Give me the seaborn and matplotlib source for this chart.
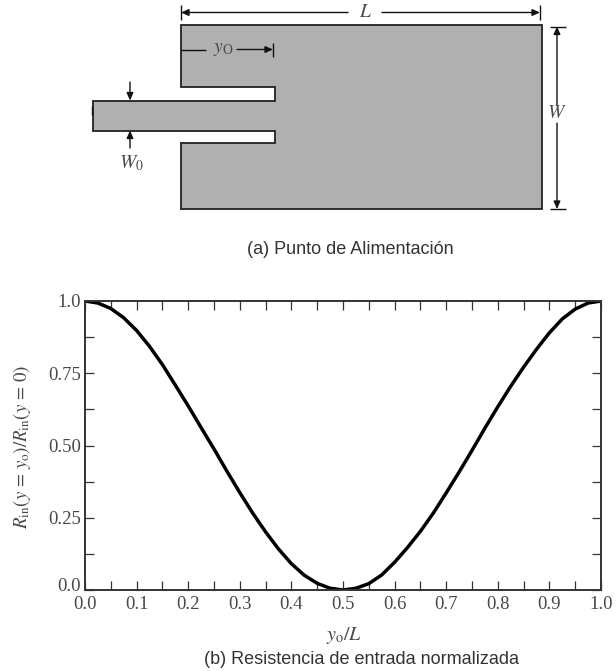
import pandas as pd
import matplotlib.pyplot as plt
import matplotlib.transforms as mtrans
import seaborn as sns

sns.set_style("ticks")
plt.rcParams['font.family'] = ['Liberation Serif', 'DejaVu Serif']
plt.rcParams['mathtext.fontset'] = 'stix'

# curve
y_over_l = [0.0, 0.025, 0.05, 0.075, 0.1, 0.125, 0.15, 0.175, 0.2, 0.225,
            0.25, 0.275, 0.3, 0.325, 0.35, 0.375, 0.4, 0.425, 0.45, 0.475,
            0.5, 0.525, 0.55, 0.575, 0.6, 0.625, 0.65, 0.675, 0.7, 0.725,
            0.75, 0.775, 0.8, 0.825, 0.85, 0.875, 0.9, 0.925, 0.95, 0.975, 1.0]
r_norm = [1.0, 0.993, 0.974, 0.942, 0.898, 0.843, 0.780, 0.709, 0.637, 0.562,
          0.488, 0.411, 0.337, 0.266, 0.201, 0.142, 0.091, 0.051, 0.023, 0.006,
          0.0, 0.006, 0.022, 0.052, 0.096, 0.147, 0.203, 0.266, 0.336, 0.408,
          0.483, 0.560, 0.634, 0.705, 0.771, 0.833, 0.890, 0.938, 0.972, 0.993, 1.0]

x_ticks = [0.0, 0.1, 0.2, 0.3, 0.4, 0.5, 0.6, 0.7, 0.8, 0.9, 1.0]
x_minor = [0.05, 0.15, 0.25, 0.35, 0.45, 0.55, 0.65, 0.75, 0.85, 0.95]
y_ticks = [0.0, 0.25, 0.5, 0.75, 1.0]
y_tick_labels = ['0.0', '0.25', '0.50', '0.75', '1.0']
y_minor = [0.125, 0.375, 0.625, 0.875]

# patch outline, in picture pixels
patch_x = [181, 542, 542, 181, 181, 275, 275, 93, 93, 275, 275, 181, 181]
patch_y = [25, 25, 209, 209, 143, 143, 130.5, 130.5, 100.5, 100.5, 87, 87, 25]

DARK = '#333333'
TEXT = '#484848'
PATCH_GRAY = '#b0b0b0'

fig = plt.figure(figsize=(6.16, 6.71), dpi=100)

# top drawing in pixel coordinates
top = fig.add_axes([0, 0, 1, 1])
top.set_xlim(0, 616)
top.set_ylim(671, 0)
top.axis('off')
top.fill(patch_x, patch_y, facecolor=PATCH_GRAY, edgecolor='#222222', linewidth=1.3)


def seg(x0, y0, x1, y1):
    top.plot([x0, x1], [y0, y1], color='#111111', lw=1.0, solid_capstyle='butt')


def arrow(x0, y0, x1, y1):
    top.annotate('', xy=(x1, y1), xytext=(x0, y0),
                 arrowprops=dict(arrowstyle='-|>,head_length=0.45,head_width=0.2',
                                 color='#111111', lw=1.0, shrinkA=0, shrinkB=0))


# L
seg(181, 5, 181, 20)
seg(540, 5, 540, 20)
arrow(348, 12.5, 181, 12.5)
arrow(382, 12.5, 540, 12.5)
top.text(366, 12.5, '$L$', fontsize=14, color=TEXT, ha='center', va='center')
# y0
seg(181, 49.5, 206, 49.5)
arrow(237, 49.5, 273, 49.5)
seg(273, 43, 273, 57)
top.text(223, 49.5, r'$y_{\mathrm{O}}$', fontsize=14, color=TEXT, ha='center', va='center')
# W
seg(550, 26.5, 566, 26.5)
seg(550, 209, 566, 209)
arrow(557, 105, 557, 26.5)
arrow(557, 123, 557, 209)
top.text(557, 113, '$W$', fontsize=14, color=TEXT, ha='center', va='center')
# W0
arrow(130, 82, 130, 100.5)
arrow(130, 148, 130, 130.5)
top.text(131, 163, r'$W_{\mathrm{0}}$', fontsize=14, color=TEXT, ha='center', va='center')
seg(91.5, 106, 91.5, 115)

# bottom chart
ax = fig.add_axes([85 / 616, 1 - 590 / 671, (601 - 85) / 616, (590 - 301) / 671])
ax.patch.set_alpha(0)
df = pd.DataFrame({'y_over_l': y_over_l, 'r_norm': r_norm})
sns.lineplot(data=df, x='y_over_l', y='r_norm', color='black', linewidth=2.5, ax=ax,
             solid_joinstyle='round')
ax.set_xlim(0, 1)
ax.set_ylim(0, 1)
ax.set_xticks(x_ticks)
ax.set_xticklabels([f'{v:.1f}' for v in x_ticks])
ax.set_xticks(x_minor, minor=True)
ax.set_yticks(y_ticks)
ax.set_yticklabels(y_tick_labels)
ax.set_yticks(y_minor, minor=True)
ax.tick_params(which='both', direction='in', length=6.5, width=0.9, color=DARK,
               top=True, right=True, labelsize=13.5, labelcolor=TEXT, pad=3)
ax.tick_params(axis='x', which='both', pad=4)
for side, spine in ax.spines.items():
    spine.set_color(DARK)
    spine.set_linewidth(1.4)
ax.set_xlabel('')
ax.set_ylabel('')

# the lower 0.0 sits a little above its tick, clear of the x labels
zero_label = ax.get_yticklabels()[0]
zero_label.set_transform(zero_label.get_transform()
                         + mtrans.ScaledTranslation(0, 4 / 72, fig.dpi_scale_trans))

fig.text(344 / 616, 1 - 635 / 671, r'$y_{\mathrm{o}}/L$', fontsize=14.5, color=TEXT,
         ha='center', va='center')
fig.text(22 / 616, 1 - 447 / 671, r'$R_{\mathrm{in}}(y\,=\,y_{\mathrm{o}})/R_{\mathrm{in}}(y\,=\,0)$',
         fontsize=13.5, color=TEXT, rotation=90, ha='center', va='center')
fig.text(350 / 616, 1 - 250 / 671, '(a) Punto de Alimentación', fontsize=13,
         family='Liberation Sans', color=DARK, ha='center', va='center')
fig.text(362 / 616, 1 - 660 / 671, '(b) Resistencia de entrada normalizada', fontsize=13,
         family='Liberation Sans', color=DARK, ha='center', va='center')

plt.savefig('out.png', dpi=100)
